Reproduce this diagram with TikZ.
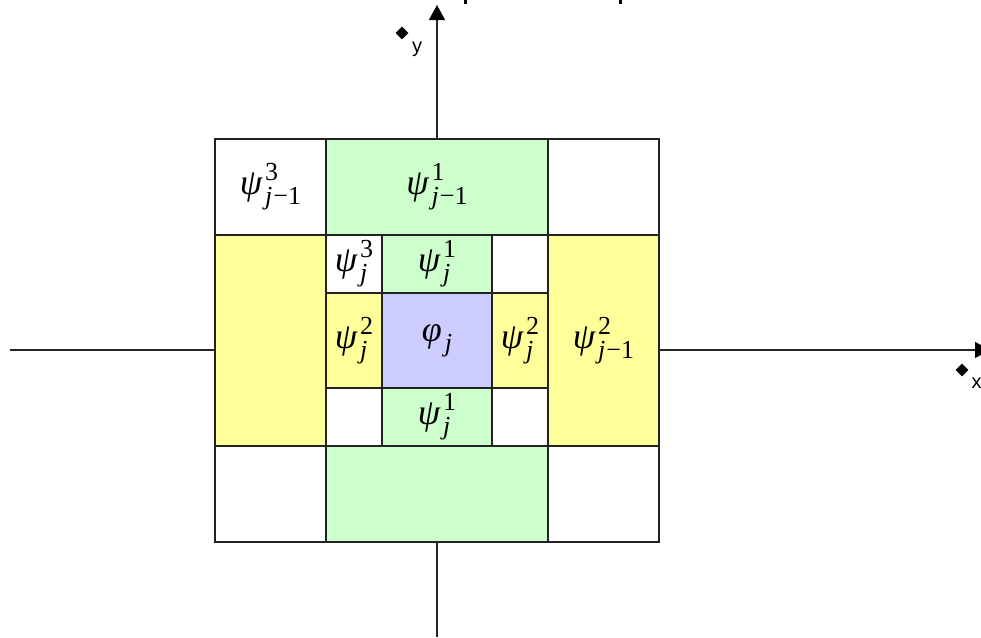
\documentclass[tikz,border=0pt]{standalone}
\usepackage{fontspec}
\newfontfamily\labelsans{Liberation Sans}
\newfontfamily\cellfont{Liberation Serif}
\usetikzlibrary{arrows.meta,shapes.geometric}
\definecolor{cgreen}{HTML}{CCFFCC}
\definecolor{cyellow}{HTML}{FFFF99}
\definecolor{cblue}{HTML}{CCCCFF}
\definecolor{cline}{HTML}{222222}
% base letter with a superscript (#2) and a subscript (#3)
\newcommand\cellterm[3]{{\cellfont\fontsize{36}{40}\selectfont\itshape #1}\kern3pt%
  {\cellfont\fontsize{26}{28}\selectfont
   \setbox0\hbox{#2}\setbox2\hbox{#3}%
   \dimen0=\wd0 \ifdim\wd2>\dimen0 \dimen0=\wd2\fi
   \hbox to \dimen0{\rlap{\raise 14pt\box0}\lower 10pt\box2\hss}}}
\newcommand\jm{\textit{j}\kern1pt−1}
\newcommand\jj{\textit{j}}
\tikzset{
  cell/.style={draw=cline, line width=1.4pt, inner sep=0pt, outer sep=0pt},
  axisline/.style={draw=black!85, line width=1.3pt,
    -{Triangle[length=15pt,width=16pt,fill=black,color=black]}},
  marker/.style={diamond, fill=black, inner sep=0pt, minimum width=13pt, minimum height=13pt},
  axlabel/.style={inner sep=0pt, font=\labelsans\fontsize{20}{24}\selectfont},
}
\begin{document}
\begin{tikzpicture}[x=1pt,y=-1pt]
\useasboundingbox (0,0) rectangle (981,637);
% axes
\coordinate (ybot) at (437,637);
\coordinate (ytop) at (437,5);
\coordinate (xleft) at (10,350);
\coordinate (xright) at (990,350);
\draw[axisline] (ybot) -- (ytop);
\draw[axisline] (xleft) -- (xright);
% outer cells
\node[cell, fill=white, minimum width=111pt, minimum height=96pt] (tl) at (270.5,187) {\cellterm{ψ}{3}{\jm}};
\node[cell, fill=cgreen, minimum width=222pt, minimum height=96pt] (tm) at (437,187) {\cellterm{ψ}{1}{\jm}};
\node[cell, fill=white, minimum width=111pt, minimum height=96pt] (tr) at (603.5,187) {};
\node[cell, fill=cyellow, minimum width=111pt, minimum height=211pt] (ml) at (270.5,340.5) {};
\node[cell, fill=cyellow, minimum width=111pt, minimum height=211pt] (mr) at (603.5,340.5) {\cellterm{ψ}{2}{\jm}};
\node[cell, fill=white, minimum width=111pt, minimum height=96pt] (bl) at (270.5,494) {};
\node[cell, fill=cgreen, minimum width=222pt, minimum height=96pt] (bm) at (437,494) {};
\node[cell, fill=white, minimum width=111pt, minimum height=96pt] (br) at (603.5,494) {};
% inner cells
\node[cell, fill=white, minimum width=56pt, minimum height=58pt] (itl) at (354,264) {\cellterm{ψ}{3}{\jj}};
\node[cell, fill=cgreen, minimum width=110pt, minimum height=58pt] (itm) at (437,264) {\cellterm{ψ}{1}{\jj}};
\node[cell, fill=white, minimum width=56pt, minimum height=58pt] (itr) at (520,264) {};
\node[cell, fill=cyellow, minimum width=56pt, minimum height=95pt] (iml) at (354,340.5) {\cellterm{ψ}{2}{\jj}};
\node[cell, fill=cblue, minimum width=110pt, minimum height=95pt] (imm) at (437,340.5) {\cellterm{φ}{}{\jj}};
\node[cell, fill=cyellow, minimum width=56pt, minimum height=95pt] (imr) at (520,340.5) {\cellterm{ψ}{2}{\jj}};
\node[cell, fill=white, minimum width=56pt, minimum height=58pt] (ibl) at (354,417) {};
\node[cell, fill=cgreen, minimum width=110pt, minimum height=58pt] (ibm) at (437,417) {\cellterm{ψ}{1}{\jj}};
\node[cell, fill=white, minimum width=56pt, minimum height=58pt] (ibr) at (520,417) {};
% axis labels
\node[marker] (ymark) at (402,33) {};
\node[axlabel] (ylab) at (417,49) {y};
\node[marker] (xmark) at (962,370) {};
\node[axlabel] (xlab) at (976.5,383) {x};
% cut-off fragments at the top edge
\fill[black] (464,-2) rectangle (467,4);
\fill[black] (619,-2) rectangle (622,4);
\end{tikzpicture}
\end{document}
